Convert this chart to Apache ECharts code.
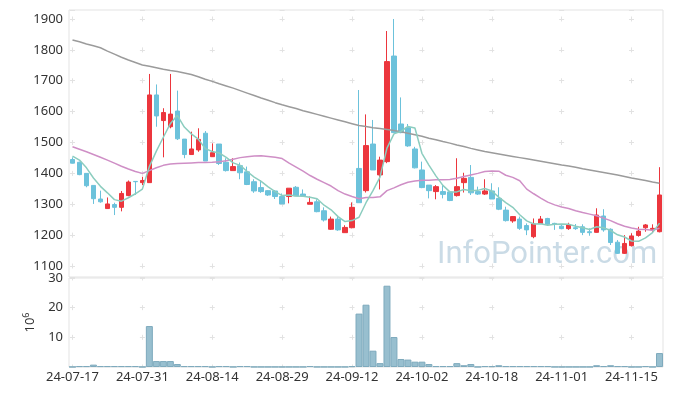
<!DOCTYPE html>
<html><head><meta charset="utf-8">
<script src="https://cdn.jsdelivr.net/npm/echarts@6/dist/echarts.min.js"></script>
<style>html,body{margin:0;padding:0;background:#fff}#c{width:673px;height:396px}</style>
</head><body><div id="c"></div>
<script>
const dates = ['24-07-17','24-07-18','24-07-19','24-07-22','24-07-23','24-07-24','24-07-25','24-07-26','24-07-29','24-07-30',
'24-07-31','24-08-01','24-08-02','24-08-05','24-08-06','24-08-07','24-08-08','24-08-09','24-08-12','24-08-13',
'24-08-14','24-08-16','24-08-19','24-08-20','24-08-21','24-08-22','24-08-23','24-08-26','24-08-27','24-08-28',
'24-08-29','24-08-30','24-09-02','24-09-03','24-09-04','24-09-05','24-09-06','24-09-09','24-09-10','24-09-11',
'24-09-12','24-09-13','24-09-19','24-09-20','24-09-23','24-09-24','24-09-25','24-09-26','24-09-27','24-09-30',
'24-10-02','24-10-04','24-10-07','24-10-08','24-10-10','24-10-11','24-10-14','24-10-15','24-10-16','24-10-17',
'24-10-18','24-10-21','24-10-22','24-10-23','24-10-24','24-10-25','24-10-28','24-10-29','24-10-30','24-10-31',
'24-11-01','24-11-04','24-11-05','24-11-06','24-11-07','24-11-08','24-11-11','24-11-12','24-11-13','24-11-14',
'24-11-15','24-11-18','24-11-19','24-11-20','24-11-21'];
const opens = [1445,1436,1400,1361,1317,1286,1299,1290,1328,1374,1370,1370,1654,1571,1551,1602,1511,1461,1476,1530,1454,1495,1436,1409,1425,1405,1373,1354,1344,1343,1325,1325,1355,1333,1300,1308,1279,1219,1252,1208,1224,1416,1344,1495,1395,1438,1780,1560,1548,1479,1411,1362,1341,1341,1340,1328,1370,1387,1341,1333,1343,1319,1281,1246,1252,1231,1195,1238,1254,1238,1229,1221,1224,1227,1211,1209,1262,1219,1177,1141,1166,1199,1224,1217,1211];
const closes = [1433,1396,1360,1318,1308,1301,1290,1335,1372,1373,1377,1654,1586,1597,1592,1512,1461,1479,1510,1440,1467,1432,1409,1422,1402,1364,1343,1341,1330,1325,1301,1352,1327,1327,1306,1276,1249,1252,1217,1225,1290,1305,1490,1411,1443,1762,1532,1532,1489,1418,1354,1344,1357,1332,1312,1357,1384,1337,1333,1343,1317,1284,1247,1260,1222,1217,1236,1252,1235,1236,1221,1233,1221,1209,1208,1265,1217,1176,1141,1173,1197,1213,1233,1222,1330];
const lows = [1432,1394,1355,1301,1305,1285,1265,1277,1326,1330,1362,1370,1551,1452,1546,1508,1449,1461,1470,1440,1453,1427,1406,1409,1381,1362,1337,1337,1327,1317,1301,1303,1327,1327,1300,1274,1244,1217,1214,1208,1222,1305,1338,1411,1348,1433,1532,1530,1486,1416,1352,1319,1316,1319,1310,1325,1338,1330,1330,1330,1317,1281,1244,1240,1217,1200,1190,1236,1231,1217,1219,1217,1217,1200,1198,1208,1211,1168,1139,1139,1163,1195,1211,1211,1209];
const highs = [1452,1438,1400,1361,1344,1322,1305,1343,1377,1375,1389,1722,1688,1611,1722,1668,1511,1535,1546,1537,1497,1495,1449,1449,1435,1422,1381,1378,1346,1346,1335,1352,1359,1348,1325,1316,1290,1260,1260,1232,1306,1670,1591,1573,1454,1861,1900,1646,1560,1486,1438,1362,1362,1362,1340,1449,1402,1427,1357,1381,1368,1355,1292,1262,1260,1238,1254,1262,1256,1240,1235,1240,1236,1235,1222,1287,1284,1222,1184,1200,1206,1227,1236,1235,1420];
const ma5 = [1456,1443,1418,1385,1358,1337,1315,1310,1321,1334,1349,1422,1472,1517,1561,1588,1550,1528,1511,1480,1471,1466,1452,1434,1426,1406,1388,1374,1356,1341,1328,1330,1327,1326,1323,1318,1297,1282,1260,1244,1247,1258,1305,1344,1388,1482,1528,1536,1552,1547,1465,1427,1392,1361,1340,1340,1348,1344,1345,1351,1343,1323,1305,1290,1266,1246,1236,1237,1232,1235,1236,1235,1229,1224,1218,1227,1224,1215,1201,1194,1181,1180,1191,1208,1239];
const ma20 = [1486,1478,1470,1461,1452,1443,1433,1423,1414,1406,1400,1409,1418,1426,1430,1432,1433,1434,1435,1435,1436,1438,1441,1446,1451,1454,1456,1457,1455,1452,1448,1433,1420,1407,1393,1381,1370,1359,1344,1333,1325,1318,1322,1322,1324,1344,1353,1363,1371,1375,1378,1378,1379,1379,1380,1384,1390,1395,1400,1406,1408,1407,1394,1387,1376,1349,1334,1320,1307,1298,1291,1286,1279,1273,1268,1263,1255,1247,1237,1229,1223,1219,1218,1216,1222];
const ma120 = [1832,1826,1819,1813,1807,1796,1786,1776,1767,1759,1751,1747,1742,1737,1733,1730,1725,1720,1713,1705,1698,1690,1683,1676,1668,1660,1652,1644,1637,1629,1622,1616,1610,1603,1597,1591,1585,1579,1573,1567,1561,1555,1552,1548,1545,1542,1539,1535,1530,1525,1520,1514,1509,1503,1498,1492,1487,1481,1476,1471,1467,1463,1459,1455,1451,1447,1443,1439,1435,1431,1427,1424,1420,1415,1411,1407,1403,1399,1395,1390,1385,1381,1377,1372,1368];
const volumes = [0.05,0.3,0.3,0.8,0.3,0.3,0.3,0.3,0.3,0.3,0.05,13.8,2.0,2.0,2.0,1.0,0.3,0.3,0.3,0.3,0.05,0.3,0.3,0.05,0.3,0.3,0.05,0.05,0.05,0.05,0.05,0.05,0.05,0.05,0.3,0.05,0.05,0.05,0.05,0.05,0.3,18.0,21.0,5.5,1.3,27.4,10.1,2.7,2.5,1.8,1.8,1.0,0.3,0.3,0.3,1.3,0.6,1.0,0.05,0.3,0.3,0.6,0.3,0.3,0.3,0.3,0.3,0.3,0.3,0.05,0.05,0.05,0.05,0.05,0.05,0.6,0.3,0.6,0.3,0.3,0.05,0.05,0.3,0.05,4.7];
const volumeName = '{a|10}{b|6}';
const watermark = 'InfoPointer.com';

const FONT = 'Noto Sans';
const UP = '#ec363d', DOWN = '#6cc2db';
const GRIDC = '#e2e2e2';
const chart = echarts.init(document.getElementById('c'));
const labelStyle = {color:'#333', fontFamily:FONT, fontSize:13};
const plain = v => String(v);
chart.setOption({
  animation:false,
  grid:[
    {left:69, right:10, top:10, height:267, show:true, borderColor:'#e3e3e3', borderWidth:1},
    {left:69, right:10, top:278, height:89, show:true, borderColor:'#e3e3e3', borderWidth:1}
  ],
  xAxis:[
    {type:'category', gridIndex:0, data:dates, boundaryGap:true,
     axisLine:{show:false}, axisTick:{show:false}, axisLabel:{show:false},
     splitLine:{show:true, interval:9, alignWithLabel:true, lineStyle:{color:GRIDC, width:1, type:[5,25.875], dashOffset:-6.5}}},
    {type:'category', gridIndex:1, data:dates, boundaryGap:true,
     axisLine:{show:false}, axisTick:{show:false},
     axisLabel:Object.assign({interval:9, margin:4}, labelStyle),
     splitLine:{show:true, interval:9, alignWithLabel:true, lineStyle:{color:GRIDC, width:1, type:[5,24.67], dashOffset:2.5}}}
  ],
  yAxis:[
    {type:'value', gridIndex:0, min:1064.4, max:1929.1, splitNumber:8, scale:true,
     axisLine:{show:false}, axisTick:{show:false},
     axisLabel:Object.assign({margin:6, showMinLabel:false, showMaxLabel:false, formatter:plain}, labelStyle),
     splitLine:{show:true, lineStyle:{color:GRIDC, width:1, type:[5,64.88], dashOffset:-1}}},
    {type:'value', gridIndex:1, min:0, max:30, interval:10,
     axisLine:{show:false}, axisTick:{show:false},
     axisLabel:Object.assign({margin:6, showMinLabel:false, formatter:plain}, labelStyle),
     splitLine:{show:true, lineStyle:{color:GRIDC, width:1, type:[5,64.88], dashOffset:-1}},
     name:volumeName, nameLocation:'middle', nameRotate:90, nameGap:28,
     nameTextStyle:{rich:{a:{fontFamily:FONT, fontSize:13, color:'#333'}, b:{fontFamily:FONT, fontSize:9, color:'#333', padding:[0,0,9,0]}}}}
  ],
  graphic:[
    {type:'text', x:437, y:255, z:-10, silent:true,
     style:{text:watermark, fontFamily:'Roboto', fontSize:31, fill:'#cadbe6', verticalAlign:'middle'}}
  ],
  series:[
    {type:'candlestick', xAxisIndex:0, yAxisIndex:0, barWidth:5,
     data:dates.map((d,i)=>[opens[i], closes[i], lows[i], highs[i]]),
     itemStyle:{color:UP, color0:DOWN, borderColor:UP, borderColor0:DOWN, borderWidth:1}},
    {type:'line', xAxisIndex:0, yAxisIndex:0, data:ma120, showSymbol:false, symbol:'none', lineStyle:{color:'#9b9b9b', width:1.5}},
    {type:'line', xAxisIndex:0, yAxisIndex:0, data:ma20, showSymbol:false, symbol:'none', lineStyle:{color:'#cf8fc6', width:1.5}},
    {type:'line', xAxisIndex:0, yAxisIndex:0, data:ma5, showSymbol:false, symbol:'none', lineStyle:{color:'#8ccdbf', width:1.5}},
    {type:'bar', xAxisIndex:1, yAxisIndex:1, data:volumes, barWidth:'100%',
     itemStyle:{color:'#98bfcf', borderColor:'#7eaabd', borderWidth:1}}
  ]
});
</script></body></html>
